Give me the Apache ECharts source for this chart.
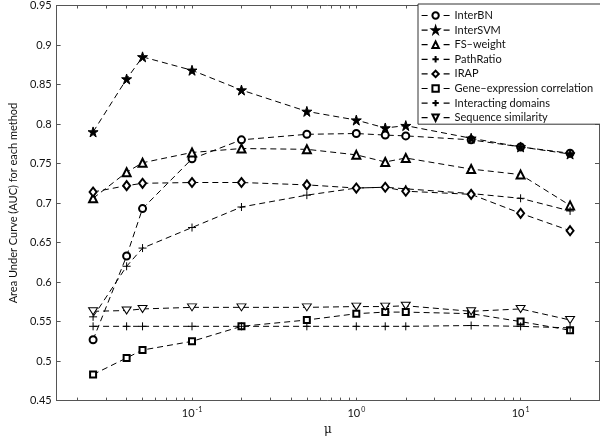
<!DOCTYPE html>
<html>
<head>
<meta charset="utf-8">
<script src="https://cdn.jsdelivr.net/npm/echarts@6/dist/echarts.min.js"></script>
<style>
html,body{margin:0;padding:0;background:#fff;}
#chart{width:600px;height:441px;}
</style>
</head>
<body>
<div id="chart"></div>
<script>
// ---- data ----
var muValues = [0.025, 0.04, 0.05, 0.1, 0.2, 0.5, 1, 1.5, 2, 5, 10, 20];
var seriesNames = ['InterBN', 'InterSVM', 'FS–weight', 'PathRatio', 'IRAP',
  'Gene–expression correlation', 'Interacting domains', 'Sequence similarity'];
var interBN      = [0.527, 0.633, 0.693, 0.756, 0.780, 0.787, 0.788, 0.786, 0.785, 0.780, 0.771, 0.763];
var interSVM     = [0.790, 0.857, 0.885, 0.868, 0.843, 0.816, 0.805, 0.795, 0.798, 0.782, 0.771, 0.762];
var fsWeight     = [0.706, 0.739, 0.751, 0.764, 0.769, 0.768, 0.761, 0.752, 0.757, 0.743, 0.736, 0.697];
var pathRatio    = [0.556, 0.620, 0.643, 0.669, 0.695, 0.710, 0.719, 0.720, 0.718, 0.712, 0.706, 0.690];
var irap         = [0.714, 0.722, 0.725, 0.726, 0.726, 0.723, 0.719, 0.720, 0.715, 0.711, 0.687, 0.665];
var geneExpr     = [0.483, 0.504, 0.514, 0.525, 0.544, 0.552, 0.560, 0.562, 0.562, 0.560, 0.550, 0.539];
var interDomains = [0.544, 0.544, 0.544, 0.544, 0.544, 0.544, 0.544, 0.544, 0.544, 0.545, 0.544, 0.542];
var seqSim       = [0.563, 0.564, 0.566, 0.568, 0.568, 0.568, 0.569, 0.569, 0.570, 0.563, 0.566, 0.552];
var xTickLabels  = [0.1, 1, 10];
var xMinorTicks  = [0.02,0.03,0.04,0.05,0.06,0.07,0.08,0.09,0.1,0.2,0.3,0.4,0.5,0.6,0.7,0.8,0.9,1,2,3,4,5,6,7,8,9,10,20,30];
var yMin = 0.45, yMax = 0.95, yStep = 0.05;
var xMin = 0.015, xMax = 30;

// ---- styles ----
var FONT = 'Lato';
var STAR = 'path://M50,0 L61.2,34.5 L97.6,34.5 L68.2,55.9 L79.4,90.5 L50,69.1 L20.6,90.5 L31.8,55.9 L2.4,34.5 L38.8,34.5 Z';
var PLUS = 'path://M5,0 L5,10 M0,5 L10,5';
var TRI_DOWN = 'path://M0,0 L10,0 L5,8.66 Z';

var allValues = [interBN, interSVM, fsWeight, pathRatio, irap, geneExpr, interDomains, seqSim];
var markers = [
  {symbol:'emptyCircle', size:7, fill:'#000'},
  {symbol:STAR, size:10, fill:'#000', border:'#000'},
  {symbol:'emptyTriangle', size:8, fill:'#000'},
  {symbol:PLUS, size:8, fill:'transparent', border:'#000'},
  {symbol:'emptyDiamond', size:[7,9], fill:'#000'},
  {symbol:'emptyRect', size:6, fill:'#000'},
  {symbol:PLUS, size:8, fill:'transparent', border:'#000'},
  {symbol:TRI_DOWN, size:[9,7], fill:'#fff', border:'#000'}
];

function zip(xs, ys){ return xs.map(function(x,i){ return [x, ys[i]]; }); }

var series = seriesNames.map(function(name, i){
  var m = markers[i];
  var itemStyle = {color: m.fill};
  if (m.border) { itemStyle.borderColor = m.border; itemStyle.borderWidth = 1; }
  return {
    name: name,
    type: 'line',
    xAxisIndex: 0, yAxisIndex: 0,
    data: zip(muValues, allValues[i]),
    symbol: m.symbol,
    symbolSize: m.size,
    showAllSymbol: true,
    lineStyle: {color:'#000', width:1, type:[6,4]},
    itemStyle: itemStyle,
    emphasis: {disabled:true},
    animation: false
  };
});

function supLabel(v){
  var e = Math.round(Math.log10(v));
  return '{b|10}{s|' + e + '}';
}

var grid = {left:41, right:1, top:4, bottom:35, containLabel:false};

var option = {
  backgroundColor:'#fff',
  animation:false,
  textStyle:{fontFamily:FONT},
  grid: grid,
  legend: {
    orient:'vertical',
    left:418, top:4,
    width: 170,
    padding:[6, 12, 1, 3],
    itemWidth:28, itemHeight:8, itemGap:3.6,
    borderColor:'#333', borderWidth:1, backgroundColor:'#fff',
    lineStyle:{type:[6,16], width:1.2},
    textStyle:{fontFamily:FONT, fontSize:11, color:'#111', lineHeight:10},
    selectedMode:false,
    data: seriesNames
  },
  xAxis: [{
    type:'log', logBase:10, min:xMin, max:xMax,
    position:'bottom',
    name:'μ', nameLocation:'middle', nameGap:21,
    nameTextStyle:{fontFamily:'DejaVu Serif', fontSize:12, color:'#111'},
    axisLine:{show:true, lineStyle:{color:'#555', width:1}},
    axisTick:{show:true, inside:true, length:3, customValues:xMinorTicks, lineStyle:{color:'#555'}},
    axisLabel:{show:true, customValues:xTickLabels, margin:6, formatter:supLabel,
      rich:{
        b:{fontFamily:FONT, fontSize:11, color:'#111'},
        s:{fontFamily:FONT, fontSize:7, color:'#111', verticalAlign:'top', padding:[0,0,7,1]}
      }},
    splitLine:{show:false}
  },{
    type:'log', logBase:10, min:xMin, max:xMax,
    position:'top',
    axisLine:{show:true, lineStyle:{color:'#555', width:1}},
    axisTick:{show:true, inside:true, length:3, customValues:xMinorTicks, lineStyle:{color:'#555'}},
    axisLabel:{show:false},
    splitLine:{show:false}
  }],
  yAxis: [{
    type:'value', min:yMin, max:yMax, interval:yStep,
    position:'left',
    name:'Area Under Curve (AUC) for each method',
    nameLocation:'middle', nameGap:31, nameRotate:90,
    nameTextStyle:{fontFamily:FONT, fontSize:11, color:'#111'},
    axisLine:{show:true, lineStyle:{color:'#555', width:1}},
    axisTick:{show:true, inside:true, length:4, lineStyle:{color:'#555'}},
    axisLabel:{margin:5, fontFamily:FONT, fontSize:11, color:'#111',
      formatter:function(v){ return String(parseFloat(v.toFixed(2))); }},
    splitLine:{show:false}
  },{
    type:'value', min:yMin, max:yMax, interval:yStep,
    position:'right',
    axisLine:{show:true, lineStyle:{color:'#555', width:1}},
    axisTick:{show:true, inside:true, length:4, lineStyle:{color:'#555'}},
    axisLabel:{show:false},
    splitLine:{show:false}
  }],
  series: series
};

var chart = echarts.init(document.getElementById('chart'), null, {renderer:'canvas'});
chart.setOption(option);
</script>
</body>
</html>
